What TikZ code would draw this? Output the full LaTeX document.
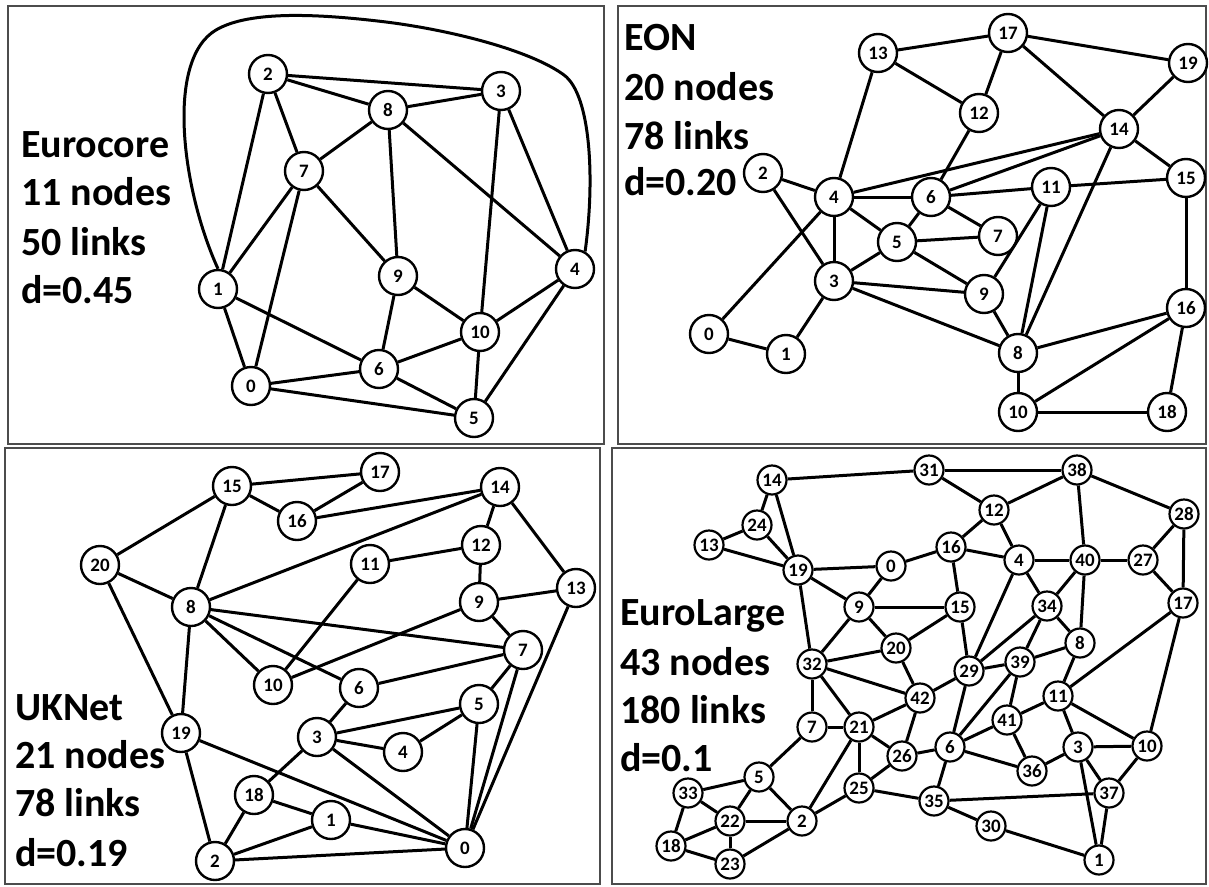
\documentclass[tikz,border=0pt]{standalone}
\usepackage{fontspec}
\setmainfont{Carlito}
\begin{document}
\begin{tikzpicture}[x=1pt,y=-1pt,
  nd/.style={circle,draw,line width=2.4pt,fill=white,minimum size=38pt,inner sep=0pt,font=\fontsize{19}{19}\selectfont\bfseries},
  sn/.style={circle,draw,line width=2.2pt,fill=white,minimum size=29pt,inner sep=0pt,font=\fontsize{19}{19}\selectfont\bfseries},
  ed/.style={line width=3pt},
  lab/.style={anchor=base west,inner sep=0pt,font=\fontsize{40}{48}\selectfont\bfseries},
  frm/.style={draw=black!70,line width=1.8pt}]
\useasboundingbox (0,0) rectangle (1209,886);
% frames
\draw[frm] (8,6) rectangle (604,444);
\draw[frm] (618,6) rectangle (1206,444);
\draw[frm] (5,448) rectangle (600,884);
\draw[frm] (612,448) rectangle (1206,884);

% ---------------- Panel 1: Eurocore
\node[lab] (la1) at (21,157) {Eurocore};
\node[lab] (la2) at (21,205) {11 nodes};
\node[lab] (la3) at (21,255) {50 links};
\node[lab] (la4) at (21,303) {d=0.45};
\foreach \n/\x/\y in {2/268/74,3/501/91,8/388/110,7/304/171,1/218/289,9/398/276,4/575/269,10/480/332,6/379/369,0/251/386,5/474/418}
  \node[nd] (a\n) at (\x,\y) {\n};
\foreach \a/\b in {2/3,2/8,2/7,2/1,8/3,8/7,8/9,8/4,3/10,3/4,7/1,7/0,7/9,1/0,1/6,9/6,9/10,10/4,10/6,10/5,6/0,6/5,0/5,4/5}
  \draw[ed] (a\a) -- (a\b);
\draw[ed] (a1.north) .. controls (182,190) and (165,60) .. (216,30)
  .. controls (250,10) and (320,14) .. (386,22)
  .. controls (450,30) and (530,50) .. (564,75)
  .. controls (591,95) and (595,180) .. (a4.60);

% ---------------- Panel 2: EON
\node[lab] (lb1) at (624,50) {EON};
\node[lab] (lb2) at (624,100) {20 nodes};
\node[lab] (lb3) at (624,149) {78 links};
\node[lab] (lb4) at (624,195) {d=0.20};
\foreach \n/\x/\y in {17/1008/33,13/878/53,19/1188/63,12/979/113,14/1119/129,2/763/173,4/834/197,6/931/197,11/1051/187,15/1186/178,5/897/242,7/998/236,3/834/281,9/984/294,16/1186/308,0/709/334,1/786/354,8/1018/353,10/1018/412,18/1167/412}
  \node[nd] (b\n) at (\x,\y) {\n};
\foreach \a/\b in {13/17,17/19,17/12,17/14,13/12,13/4,19/14,12/6,14/4,14/6,14/15,14/8,2/4,2/3,4/6,4/5,4/3,4/0,6/11,6/5,6/7,11/15,11/9,11/8,5/7,5/3,5/9,3/9,3/8,3/1,9/8,0/1,15/16,16/8,16/10,16/18,8/10,10/18}
  \draw[ed] (b\a) -- (b\b);

% ---------------- Panel 3: UKNet
\node[lab] (lc1) at (15,720) {UKNet};
\node[lab] (lc2) at (15,768) {21 nodes};
\node[lab] (lc3) at (15,816) {78 links};
\node[lab] (lc4) at (15,866) {d=0.19};
\foreach \n/\x/\y in {15/232/486,17/380/472,14/500/487,16/297/521,20/100/565,11/370/564,12/481/545,13/576/588,9/479/602,8/191/607,7/523/650,10/273/685,6/359/688,5/479/704,19/181/733,3/317/737,4/403/752,18/254/795,1/331/820,0/465/848,2/215/861}
  \node[nd] (c\n) at (\x,\y) {\n};
\foreach \a/\b in {15/17,15/16,15/20,15/8,16/17,16/14,14/8,14/12,14/13,20/8,20/19,11/12,11/10,12/9,9/13,9/10,9/7,8/7,8/6,8/10,8/19,7/6,7/5,7/0,13/0,6/3,5/3,5/4,5/0,3/4,3/0,3/18,19/0,19/2,18/1,18/2,1/0,1/2,2/0}
  \draw[ed] (c\a) -- (c\b);

% ---------------- Panel 4: EuroLarge
\node[lab] (ld1) at (620,625) {EuroLarge};
\node[lab] (ld2) at (620,675) {43 nodes};
\node[lab] (ld3) at (620,723) {180 links};
\node[lab] (ld4) at (620,771) {d=0.1};
\foreach \n/\x/\y in {14/772/480,31/929/470,38/1077/470,28/1184/514,24/757/525,13/709/545,12/994/510,16/951/547,4/1019/560,40/1085/560,27/1143/560,19/798/570,0/891/566,17/1183/603,9/859/607,15/960/607,34/1047/606,8/1080/643,20/896/648,32/812/664,29/969/671,39/1020/662,42/920/698,11/1058/696,41/1007/720,7/812/727,21/859/727,26/902/756,6/950/747,3/1078/747,10/1147/746,36/1032/771,5/759/777,33/688/793,25/859/788,35/934/801,37/1109/793,22/730/821,2/802/821,30/991/826,18/671/846,23/730/864,1/1099/860}
  \node[sn] (d\n) at (\x,\y) {\n};
\foreach \a/\b in {14/31,31/38,31/12,38/12,38/28,38/40,14/24,14/19,24/13,24/19,13/19,12/16,12/4,16/0,16/4,16/15,4/40,4/34,4/29,40/27,40/34,40/8,27/28,27/17,28/17,19/0,19/9,19/32,0/9,9/15,9/20,9/32,15/20,15/29,34/29,34/39,34/8,8/39,8/11,20/32,20/42,32/42,32/7,32/21,29/39,29/42,29/6,39/41,39/6,42/21,42/26,11/41,11/3,11/10,11/17,17/10,7/21,7/5,21/26,21/25,21/2,26/6,26/25,6/41,6/36,6/35,41/36,36/3,3/10,3/37,3/1,10/37,37/1,37/35,5/33,5/22,5/2,33/22,33/18,22/18,22/2,22/23,18/23,23/2,2/25,25/35,35/30,30/1}
  \draw[ed] (d\a) -- (d\b);
\end{tikzpicture}
\end{document}
